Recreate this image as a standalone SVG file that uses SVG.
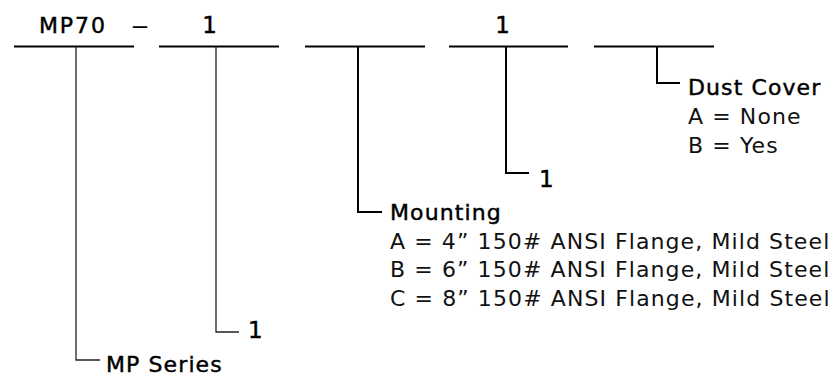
<svg xmlns="http://www.w3.org/2000/svg" width="839" height="376" viewBox="0 0 839 376">
<style>
  text { font-family: "DejaVu Sans", "Liberation Sans", sans-serif; font-size: 22px; letter-spacing: 1.1px; fill: #111; }
  .hd { fill: #000; stroke: #000; stroke-width: 0.45px; }
  .big { font-size: 23px; }
  .field { stroke: #000; stroke-width: 2; fill: none; }
  .conn { stroke: #000; stroke-width: 2; fill: none; }
  .thin { stroke: #222; stroke-width: 1.3; }
</style>
<rect width="839" height="376" fill="#fff"/>
<g id="code-fields">
  <g id="field-series">
    <line class="field" x1="14" y1="46.5" x2="134" y2="46.5"/>
    <text class="hd" x="73" y="33" text-anchor="middle" style="letter-spacing:2px">MP70</text>
  </g>
  <text id="dash" x="140" y="34" text-anchor="middle" style="font-family:'Liberation Sans',sans-serif;font-size:26px;letter-spacing:0;fill:#000">–</text>
  <g id="field-2">
    <line class="field" x1="159" y1="46.5" x2="279" y2="46.5"/>
    <text class="hd big" x="210" y="33" text-anchor="middle">1</text>
  </g>
  <g id="field-mounting">
    <line class="field" x1="305" y1="46.5" x2="425" y2="46.5"/>
  </g>
  <g id="field-4">
    <line class="field" x1="449" y1="46.5" x2="568" y2="46.5"/>
    <text class="hd big" x="503" y="33" text-anchor="middle">1</text>
  </g>
  <g id="field-dust">
    <line class="field" x1="594" y1="46.5" x2="714" y2="46.5"/>
  </g>
</g>
<g id="connectors">
  <polyline class="conn thin" points="76,46.5 76,360 100,360"/>
  <polyline class="conn thin" points="216,46.5 216,332 239,332"/>
  <polyline class="conn" points="358,46.5 358,212 382,212"/>
  <polyline class="conn" points="506,46.5 506,173 529,173"/>
  <polyline class="conn" points="657,46.5 657,83 680,83"/>
</g>
<g id="label-series">
  <text class="hd" x="106" y="372">MP Series</text>
</g>
<g id="label-2">
  <text class="hd big" x="248" y="338">1</text>
</g>
<g id="label-mounting">
  <text class="hd" x="390" y="220">Mounting</text>
  <text x="390" y="248.5">A = 4” 150# ANSI Flange, Mild Steel</text>
  <text x="390" y="277">B = 6” 150# ANSI Flange, Mild Steel</text>
  <text x="390" y="305.5">C = 8” 150# ANSI Flange, Mild Steel</text>
</g>
<g id="label-4">
  <text class="hd big" x="539" y="187">1</text>
</g>
<g id="label-dust">
  <text class="hd" x="688" y="95">Dust Cover</text>
  <text x="688" y="124">A = None</text>
  <text x="688" y="152.5">B = Yes</text>
</g>
</svg>
